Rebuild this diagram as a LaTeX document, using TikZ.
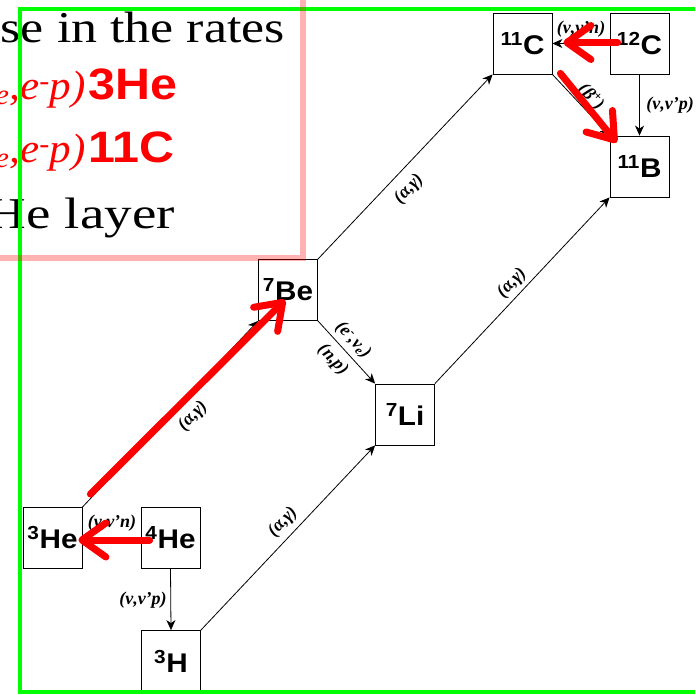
\documentclass[tikz,border=0pt]{standalone}
\usepackage{fontspec}
\usepackage{graphicx}
\setmainfont{Liberation Serif}
\newfontfamily\arialfont{Liberation Sans}
\usetikzlibrary{arrows.meta,calc}
\newcommand\nuclab[2]{\scalebox{1.1}[1]{\textsuperscript{#1}#2}}
\begin{document}
\begin{tikzpicture}[x=1pt,y=1pt,
  nuc/.style={draw, line width=0.8pt, minimum width=59pt, minimum height=61pt, inner sep=0pt,
    font=\arialfont\bfseries\fontsize{27}{27}\selectfont},
  conn/.style={line width=0.8pt, -{Stealth[length=10pt,width=9pt,inset=3pt]}},
  lab/.style={inner sep=0pt, font=\bfseries\itshape\fontsize{18}{18}\selectfont},
  redarrow/.style={red, line width=7pt, line cap=round, -{Straight Barb[length=24pt,width=34pt,round]}},
  big/.style={inner sep=0pt, anchor=base east, font=\fontsize{44}{44}\selectfont},
  bigred/.style={inner sep=0pt, anchor=base west, text=red, font=\arialfont\bfseries\fontsize{44}{44}\selectfont},
  bigit/.style={inner sep=0pt, anchor=base east, text=red, font=\itshape\fontsize{41}{41}\selectfont}
]
\useasboundingbox (0,0) rectangle (695,-695);
\clip (0,0) rectangle (695,-695);

% text
\node[big] (t1) at (285,-43) {\scalebox{1.18}[1]{se in the rates}};
\node[bigit] (t2a) at (86,-100) {\scalebox{1.05}[1]{\textsubscript{e},e\textsuperscript{-}p)}};
\node[bigred] (t2b) at (88,-100) {\scalebox{1.1}[1]{3He}};
\node[bigit] (t3a) at (86,-163) {\scalebox{1.05}[1]{\textsubscript{e},e\textsuperscript{-}p)}};
\node[bigred] (t3b) at (88,-163) {\scalebox{1.1}[1]{11C}};
\node[big] (t4) at (175,-228) {\scalebox{1.25}[1]{He layer}};

% nuclei
\node[nuc] (c11) at (522.5,-43.5) {\nuclab{11}{C}};
\node[nuc] (c12) at (639.5,-43.5) {\nuclab{12}{C}};
\node[nuc] (b11) at (639.5,-166.5) {\nuclab{11}{B}};
\node[nuc] (be7) at (288,-290) {\nuclab{7}{Be}};
\node[nuc] (li7) at (405,-414.5) {\nuclab{7}{Li}};
\node[nuc] (he3) at (52.5,-538) {\nuclab{3}{He}};
\node[nuc] (he4) at (170.5,-538) {\nuclab{4}{He}};
\node[nuc] (h3) at (171,-661) {\nuclab{3}{H}};

% connectors
\draw[conn] (h3.north east) -- (li7.south west);
\draw[conn] (li7.north east) -- (b11.south west);
\draw[conn] (be7.north east) -- (c11.south west);
\draw[conn] (he3.north east) -- (be7.south west);
\draw[conn] (be7.south east) -- (li7.north west);
\draw[conn] (he4.south) -- (h3.north);
\draw[conn] (c12.south) -- (b11.north);
\draw[conn] (c12.west) -- (c11.east);
\draw[conn] (he4.west) -- (he3.east);
\draw[conn] (c11.south east) -- (b11.north west);

% labels
\node[lab, rotate=46.5] at (283,-522) {(α,γ)};
\node[lab, rotate=46.5] at (512,-283) {(α,γ)};
\node[lab, rotate=46.5] at (409,-189) {(α,γ)};
\node[lab, rotate=46.5] at (193,-416) {(α,γ)};
\node[lab, rotate=-47] at (353,-340) {(e\textsuperscript{-},ν\textsubscript{e})};
\node[lab, rotate=-47] at (333,-360) {(n,p)};
\node[lab, rotate=-47] at (591,-97) {(β\textsuperscript{+})};
\node[lab] at (143,-600) {(ν,ν'p)};
\node[lab] at (670,-105) {(ν,ν'p)};
\node[lab] at (581,-29) {(ν,ν'n)};
\node[lab] at (112,-523) {(ν,ν'n)};

% red arrows
\draw[redarrow] ($(he4.west)+(9,-2)$) -- ($(he3.east)+(-4,-2)$);
\draw[redarrow] ($(c12.west)+(8,1)$) -- ($(c11.east)+(11,1)$);
\draw[redarrow] ($(c11.south east)+(8,1)$) -- ($(b11.north west)+(7,-7)$);
\draw[redarrow] ($(he3.north east)+(8,13)$) -- ($(be7.south west)+(27,21)$);

% frames
\draw[green, line width=4pt] (20,-9) rectangle (730,-692);
\draw[red, opacity=0.3, line width=6pt] (-40,40) rectangle (303,-258);
\end{tikzpicture}
\end{document}
